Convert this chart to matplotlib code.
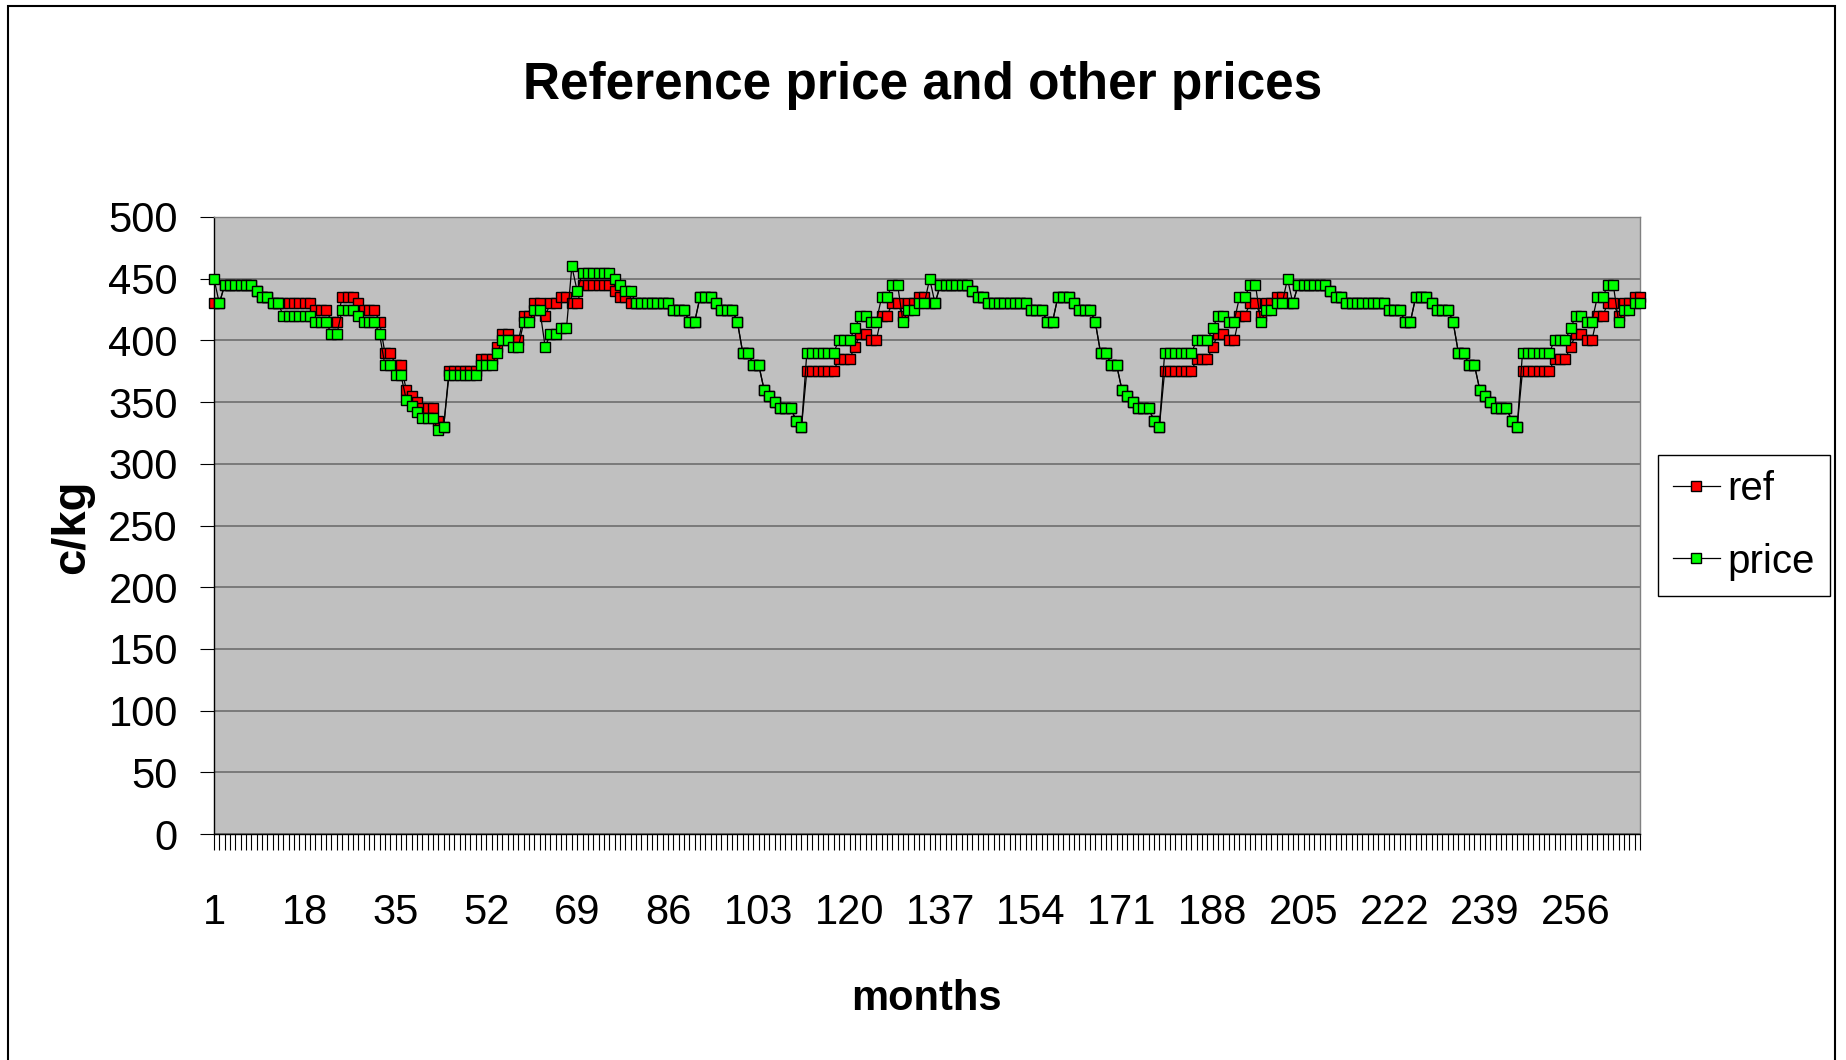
import matplotlib
matplotlib.use("Agg")
import matplotlib.pyplot as plt
from matplotlib import font_manager
from matplotlib.patches import Rectangle

# monthly values (c/kg)
months = list(range(1, 269))
xtick_labels = [1, 18, 35, 52, 69, 86, 103, 120, 137, 154, 171, 188, 205, 222, 239, 256]

price = [
    # months 1-44
    450, 430, 445, 445, 445, 445, 445, 445, 440, 435, 435, 430, 430,
    420, 420, 420, 420, 420, 420, 415, 415, 415, 405, 405, 425, 425, 425, 420, 415, 415, 415, 405,
    380, 380, 372, 372, 352, 347, 342, 337, 337, 337, 327, 330,
    # months 45-67
    372, 372, 372, 372, 372, 372, 380, 380, 380, 390, 400, 400, 395, 395, 415, 415, 425, 425, 395,
    405, 405, 410, 410,
    # months 68-111
    460, 440, 455, 455, 455, 455, 455, 455, 450, 445, 440, 440,
    430, 430, 430, 430, 430, 430, 430,
    425, 425, 425, 415, 415, 435, 435, 435, 430, 425, 425, 425, 415,
    390, 390, 380, 380, 360, 355, 350, 345, 345, 345, 335, 330,
    # months 112-134
    390, 390, 390, 390, 390, 390, 400, 400, 400, 410, 420, 420, 415, 415, 435, 435, 445, 445, 415,
    425, 425, 430, 430,
    # months 135-178
    450, 430, 445, 445, 445, 445, 445, 445, 440, 435, 435,
    430, 430, 430, 430, 430, 430, 430, 430,
    425, 425, 425, 415, 415, 435, 435, 435, 430, 425, 425, 425, 415,
    390, 390, 380, 380, 360, 355, 350, 345, 345, 345, 335, 330,
    # months 179-201
    390, 390, 390, 390, 390, 390, 400, 400, 400, 410, 420, 420, 415, 415, 435, 435, 445, 445, 415,
    425, 425, 430, 430,
    # months 202-245
    450, 430, 445, 445, 445, 445, 445, 445, 440, 435, 435,
    430, 430, 430, 430, 430, 430, 430, 430,
    425, 425, 425, 415, 415, 435, 435, 435, 430, 425, 425, 425, 415,
    390, 390, 380, 380, 360, 355, 350, 345, 345, 345, 335, 330,
    # months 246-268
    390, 390, 390, 390, 390, 390, 400, 400, 400, 410, 420, 420, 415, 415, 435, 435, 445, 445, 415,
    425, 425, 430, 430,
]

ref = [
    # months 1-44
    430, 430, 445, 445, 445, 445, 445, 445, 440, 435, 435,
    430, 430, 430, 430, 430, 430, 430, 430,
    425, 425, 425, 415, 415, 435, 435, 435, 430, 425, 425, 425, 415,
    390, 390, 380, 380, 360, 355, 350, 345, 345, 345, 335, 330,
    # months 45-67
    375, 375, 375, 375, 375, 375, 385, 385, 385, 395, 405, 405, 400, 400, 420, 420, 430, 430, 420,
    430, 430, 435, 435,
    # months 68-111
    430, 430, 445, 445, 445, 445, 445, 445, 440, 435, 435,
    430, 430, 430, 430, 430, 430, 430, 430,
    425, 425, 425, 415, 415, 435, 435, 435, 430, 425, 425, 425, 415,
    390, 390, 380, 380, 360, 355, 350, 345, 345, 345, 335, 330,
    # months 112-134
    375, 375, 375, 375, 375, 375, 385, 385, 385, 395, 405, 405, 400, 400, 420, 420, 430, 430, 420,
    430, 430, 435, 435,
    # months 135-178
    430, 430, 445, 445, 445, 445, 445, 445, 440, 435, 435,
    430, 430, 430, 430, 430, 430, 430, 430,
    425, 425, 425, 415, 415, 435, 435, 435, 430, 425, 425, 425, 415,
    390, 390, 380, 380, 360, 355, 350, 345, 345, 345, 335, 330,
    # months 179-201
    375, 375, 375, 375, 375, 375, 385, 385, 385, 395, 405, 405, 400, 400, 420, 420, 430, 430, 420,
    430, 430, 435, 435,
    # months 202-245
    430, 430, 445, 445, 445, 445, 445, 445, 440, 435, 435,
    430, 430, 430, 430, 430, 430, 430, 430,
    425, 425, 425, 415, 415, 435, 435, 435, 430, 425, 425, 425, 415,
    390, 390, 380, 380, 360, 355, 350, 345, 345, 345, 335, 330,
    # months 246-268
    375, 375, 375, 375, 375, 375, 385, 385, 385, 395, 405, 405, 400, 400, 420, 420, 430, 430, 420,
    430, 430, 435, 435,
]

# narrow font for the title if it's there, else plain Arial-like
names = {f.name for f in font_manager.fontManager.ttflist}
if "Liberation Sans Narrow" in names:
    title_font, title_size, xlab_size = "Liberation Sans Narrow", 45, 37
else:
    title_font, title_size, xlab_size = "Liberation Sans", 37, 30
plt.rcParams["font.family"] = ["Liberation Sans", "DejaVu Sans"]

W, H = 1846, 1060
fig = plt.figure(figsize=(W / 100, H / 100), dpi=100)
ax = fig.add_axes([214 / W, 1 - 834 / H, (1640 - 214) / W, (834 - 217) / H])
ax.set_facecolor("#C0C0C0")

ax.plot(months, ref, color="black", lw=0.9, marker="s", ms=7, mfc="#FF0000",
        mec="black", mew=1.0, label="ref", clip_on=False, zorder=3)
ax.plot(months, price, color="black", lw=0.9, marker="s", ms=7, mfc="#00FF00",
        mec="black", mew=1.0, label="price", clip_on=False, zorder=4)

ax.set_xlim(1, 268)
ax.set_ylim(0, 500)
ax.set_yticks(range(0, 501, 50))
ax.set_xticks(xtick_labels)
ax.set_xticks(months, minor=True)
ax.yaxis.grid(True, color="#666666", lw=1.1)
ax.set_axisbelow(True)
ax.tick_params(axis="x", which="both", direction="out", length=11.5, width=0.8,
               pad=31, labelsize=30)
ax.tick_params(axis="y", direction="out", length=10, width=0.8, pad=16, labelsize=30)
for s in ["left", "bottom"]:
    ax.spines[s].set_color("black")
    ax.spines[s].set_linewidth(1.0)
for s in ["top", "right"]:
    ax.spines[s].set_color("#808080")
    ax.spines[s].set_linewidth(1.0)

fig.text(0.5, 1 - 85 / H, "Reference price and other prices", ha="center", va="center",
         fontsize=title_size, fontweight="bold", family=title_font)
fig.text(926 / W, 1 - 999 / H, "months", ha="center", va="center",
         fontsize=xlab_size, fontweight="bold", family=title_font)
fig.text(72 / W, 1 - 527 / H, "c/kg", ha="center", va="center", rotation=90,
         fontsize=34, fontweight="bold")

leg = ax.legend(loc="upper left", bbox_to_anchor=(1658 / W, 1 - 455 / H),
                bbox_transform=fig.transFigure, borderaxespad=0, fontsize=29,
                frameon=True, fancybox=False, edgecolor="black", framealpha=1,
                handlelength=1.15, handletextpad=0.2, borderpad=0.38, labelspacing=0.85)
leg.get_frame().set_linewidth(1.0)

fig.patches.append(Rectangle((8 / W, -0.01), (1835 - 8) / W, 1.01 - 6 / H,
                             transform=fig.transFigure, fill=False, ec="black", lw=1.5))

fig.savefig("out.png", dpi=100)
